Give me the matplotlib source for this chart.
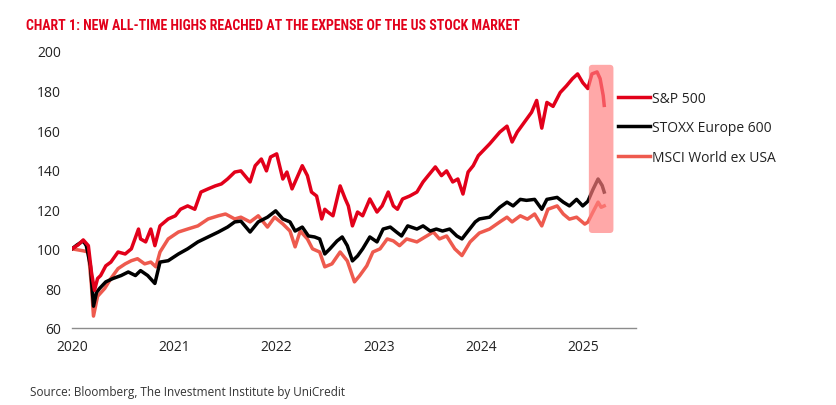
import os
import matplotlib
matplotlib.use("Agg")
import matplotlib.pyplot as plt
from matplotlib.patches import FancyBboxPatch
from matplotlib import font_manager
from matplotlib.font_manager import FontProperties

# ---------------- data (decimal years, index level, start = 100) ----------------
spx_t = [2020.00, 2020.06, 2020.11, 2020.16, 2020.19, 2020.22, 2020.25, 2020.28, 2020.33, 2020.38,
         2020.45, 2020.52, 2020.58, 2020.65, 2020.67, 2020.72, 2020.77, 2020.81, 2020.86, 2020.94,
         2021.01, 2021.06, 2021.13, 2021.20, 2021.26, 2021.33, 2021.40, 2021.46, 2021.52, 2021.59,
         2021.65, 2021.74, 2021.79, 2021.85, 2021.90, 2021.94, 2022.00, 2022.06, 2022.10, 2022.15,
         2022.18, 2022.25, 2022.30, 2022.34, 2022.39, 2022.44, 2022.47, 2022.50, 2022.55, 2022.62,
         2022.67, 2022.70, 2022.74, 2022.79, 2022.84, 2022.91, 2022.98, 2023.03, 2023.09, 2023.14,
         2023.18, 2023.23, 2023.30, 2023.37, 2023.43, 2023.48, 2023.55, 2023.61, 2023.66, 2023.72,
         2023.77, 2023.82, 2023.87, 2023.92, 2023.97, 2024.08, 2024.18, 2024.25, 2024.30, 2024.35,
         2024.42, 2024.49, 2024.54, 2024.59, 2024.64, 2024.70, 2024.77, 2024.83, 2024.89, 2024.94,
         2024.99, 2025.04, 2025.08, 2025.13, 2025.16, 2025.19, 2025.20]
spx_v = [100, 102, 104.5, 101.6, 88.3, 79, 85, 86.5, 91.4, 93.3,
         98.4, 97.4, 100, 110, 105, 103.5, 110, 101.6, 111.6, 115.1,
         116.7, 120, 121.7, 120, 128.7, 130.3, 131.8, 132.8, 135.3, 138.8,
         139.4, 133.8, 142, 145.4, 139.4, 146.4, 148, 135.3, 138.8, 130.3,
         133.8, 142, 137, 128.7, 126.7, 115.1, 120, 118.6, 116.7, 131.8,
         125.2, 121.7, 111.6, 118.6, 116.7, 125.2, 118.6, 121.7, 128.7, 121.7,
         120, 125.2, 126.7, 128.7, 133.8, 137, 141.4, 137, 139.4, 133.8,
         135.3, 127.7, 138.8, 142, 147.1, 153, 159, 162, 154, 159,
         164, 169, 175, 161, 174, 172, 179, 182.3, 186, 188.4,
         184, 181, 188.4, 189.4, 186, 177.5, 172.5]

stoxx_t = [2020.00, 2020.05, 2020.11, 2020.14, 2020.18, 2020.21, 2020.24, 2020.27, 2020.33, 2020.40,
           2020.48, 2020.55, 2020.62, 2020.67, 2020.74, 2020.81, 2020.86, 2020.94, 2021.04, 2021.13,
           2021.23, 2021.33, 2021.43, 2021.52, 2021.59, 2021.65, 2021.74, 2021.82, 2021.91, 2021.99,
           2022.06, 2022.13, 2022.18, 2022.25, 2022.31, 2022.37, 2022.42, 2022.47, 2022.52, 2022.59,
           2022.64, 2022.69, 2022.74, 2022.79, 2022.84, 2022.91, 2022.98, 2023.04, 2023.11, 2023.17,
           2023.22, 2023.28, 2023.37, 2023.43, 2023.50, 2023.56, 2023.62, 2023.69, 2023.76, 2023.81,
           2023.87, 2023.94, 2023.98, 2024.08, 2024.18, 2024.25, 2024.31, 2024.38, 2024.44, 2024.52,
           2024.59, 2024.64, 2024.74, 2024.80, 2024.86, 2024.93, 2024.99, 2025.04, 2025.09, 2025.14,
           2025.18, 2025.20]
stoxx_v = [100, 102, 104, 101.6, 91.4, 71, 78, 80, 83.3, 85,
           86.5, 88.3, 86.5, 89, 86.5, 82.5, 93.3, 94, 97.4, 100,
           103.5, 106, 108.5, 111, 113.6, 114, 108.5, 113.6, 116, 119.2,
           115.1, 113.6, 109, 111, 106.5, 106, 105, 97.4, 100, 104,
           106, 101.6, 93.9, 96.4, 100, 106, 103.5, 110, 111, 108.5,
           106.5, 111.6, 110, 111.6, 109, 110, 109, 110, 106.5, 105,
           109, 113.6, 115.1, 116, 121, 123.6, 121.7, 125, 124.5, 125,
           120, 125, 126, 123.6, 121.7, 125, 121.7, 124, 130, 135.3,
           132, 128.7]

msci_t = [2020.00, 2020.11, 2020.16, 2020.19, 2020.21, 2020.25, 2020.32, 2020.38, 2020.45, 2020.52,
          2020.58, 2020.64, 2020.71, 2020.77, 2020.82, 2020.86, 2020.94, 2021.04, 2021.13, 2021.23,
          2021.33, 2021.43, 2021.50, 2021.59, 2021.65, 2021.74, 2021.82, 2021.91, 2021.98, 2022.06,
          2022.13, 2022.18, 2022.23, 2022.30, 2022.35, 2022.42, 2022.47, 2022.54, 2022.62, 2022.69,
          2022.76, 2022.81, 2022.88, 2022.94, 2023.01, 2023.08, 2023.14, 2023.20, 2023.27, 2023.37,
          2023.45, 2023.53, 2023.59, 2023.66, 2023.74, 2023.81, 2023.89, 2023.98, 2024.08, 2024.18,
          2024.25, 2024.30, 2024.38, 2024.45, 2024.52, 2024.59, 2024.65, 2024.74, 2024.80, 2024.86,
          2024.93, 2025.01, 2025.04, 2025.09, 2025.14, 2025.17, 2025.20]
msci_v = [100, 99, 98.4, 81.5, 66, 76, 80, 85, 90, 92.4,
          94, 95, 92.4, 93.3, 90.9, 98.4, 105, 108.5, 110, 111.6,
          115.1, 116.7, 117.6, 115.1, 116, 113.6, 116.7, 111, 116, 112.6,
          109, 101, 109, 105, 100, 98.4, 90.9, 92.4, 98.4, 93.9,
          83.3, 86.4, 91.4, 98.4, 100, 105, 104, 101.6, 105, 103.5,
          106, 108.5, 105, 106.5, 100, 96.6, 103.5, 108, 110, 113.6,
          116, 113.6, 116.7, 115, 117.6, 111.6, 120, 121.7, 117.6, 115,
          116, 112.5, 113.5, 118.6, 123.6, 121, 121.7]

series_names = ["S&P 500", "STOXX Europe 600", "MSCI World ex USA"]
year_ticks = [2020, 2021, 2022, 2023, 2024, 2025]
y_ticks = [60, 80, 100, 120, 140, 160, 180, 200]

# ---------------- fonts ----------------
def find_condensed_bold():
    prefs = ["roboto condensed", "open sans condensed", "liberation sans narrow",
             "noto sans", "dejavu sans", "lato", "inter"]
    found = []
    for f in font_manager.fontManager.ttflist:
        key = (f.name + " " + os.path.basename(f.fname)).lower()
        if ("condensed" in key or "narrow" in key) and "bold" in key \
                and "italic" not in key and "oblique" not in key \
                and "extra" not in key and "ultra" not in key and "semi" not in key:
            rank = len(prefs)
            for i, p in enumerate(prefs):
                if key.startswith(p):
                    rank = i
                    break
            found.append((rank, f.fname))
    if found:
        found.sort()
        return found[0][1]
    return None

cond_path = find_condensed_bold()
if cond_path:
    title_fp = FontProperties(fname=cond_path, size=10)
else:
    title_fp = FontProperties(family=["Roboto", "DejaVu Sans"], weight="bold", size=9)

RED = "#E2001A"
SALMON = "#EE5A4E"
BLACK = "#000000"
plt.rcParams["font.family"] = ["Open Sans", "DejaVu Sans"]

fig = plt.figure(figsize=(8.36, 4.06), dpi=100)
ax = fig.add_axes([0.0861, 0.1897, 0.6746, 0.6823])

lw = 2.5
l_msci, = ax.plot(msci_t, msci_v, color=SALMON, lw=lw, solid_joinstyle="round", zorder=2)
l_stoxx, = ax.plot(stoxx_t, stoxx_v, color=BLACK, lw=lw, solid_joinstyle="round", zorder=3)
l_spx, = ax.plot(spx_t, spx_v, color=RED, lw=lw, solid_joinstyle="round", zorder=4)

ax.set_xlim(2020, 2025.51)
ax.set_ylim(60, 200)
ax.set_xticks(year_ticks)
ax.set_xticklabels([str(y) for y in year_ticks])
ax.set_yticks(y_ticks)
ax.tick_params(axis="both", length=0, labelsize=10, colors="#222222")
ax.tick_params(axis="x", pad=8)
ax.tick_params(axis="y", pad=8)
for s in ["top", "right", "left"]:
    ax.spines[s].set_visible(False)
ax.spines["bottom"].set_color("#8c8c8c")
ax.spines["bottom"].set_linewidth(1.0)

# highlight box over the latest period
hx0, hx1 = 2025.05, 2025.29
hy0, hy1 = 108, 193
aspect = (hy1 - hy0) / 168.0 / ((hx1 - hx0) / 25.0)
box = FancyBboxPatch((hx0, hy0), hx1 - hx0, hy1 - hy0,
                     boxstyle="round,pad=0,rounding_size=0.035",
                     mutation_aspect=aspect,
                     facecolor="#FF7F7F", edgecolor="none", alpha=0.68, zorder=5)
ax.add_patch(box)

leg = ax.legend([l_spx, l_stoxx, l_msci], series_names, loc="upper left",
                bbox_to_anchor=(0.958, 0.877), frameon=False, fontsize=10,
                handlelength=2.3, handletextpad=0.15, labelspacing=1.05,
                borderaxespad=0)
for t in leg.get_texts():
    t.set_color("#222222")

fig.text(0.031, 0.926, "CHART 1: NEW ALL-TIME HIGHS REACHED AT THE EXPENSE OF THE US STOCK MARKET",
         color=RED, fontproperties=title_fp, va="baseline")
fig.text(0.036, 0.025, "Source: Bloomberg, The Investment Institute by UniCredit",
         color="#333333", fontsize=8.5, va="baseline")

fig.savefig("out.png", dpi=100)
